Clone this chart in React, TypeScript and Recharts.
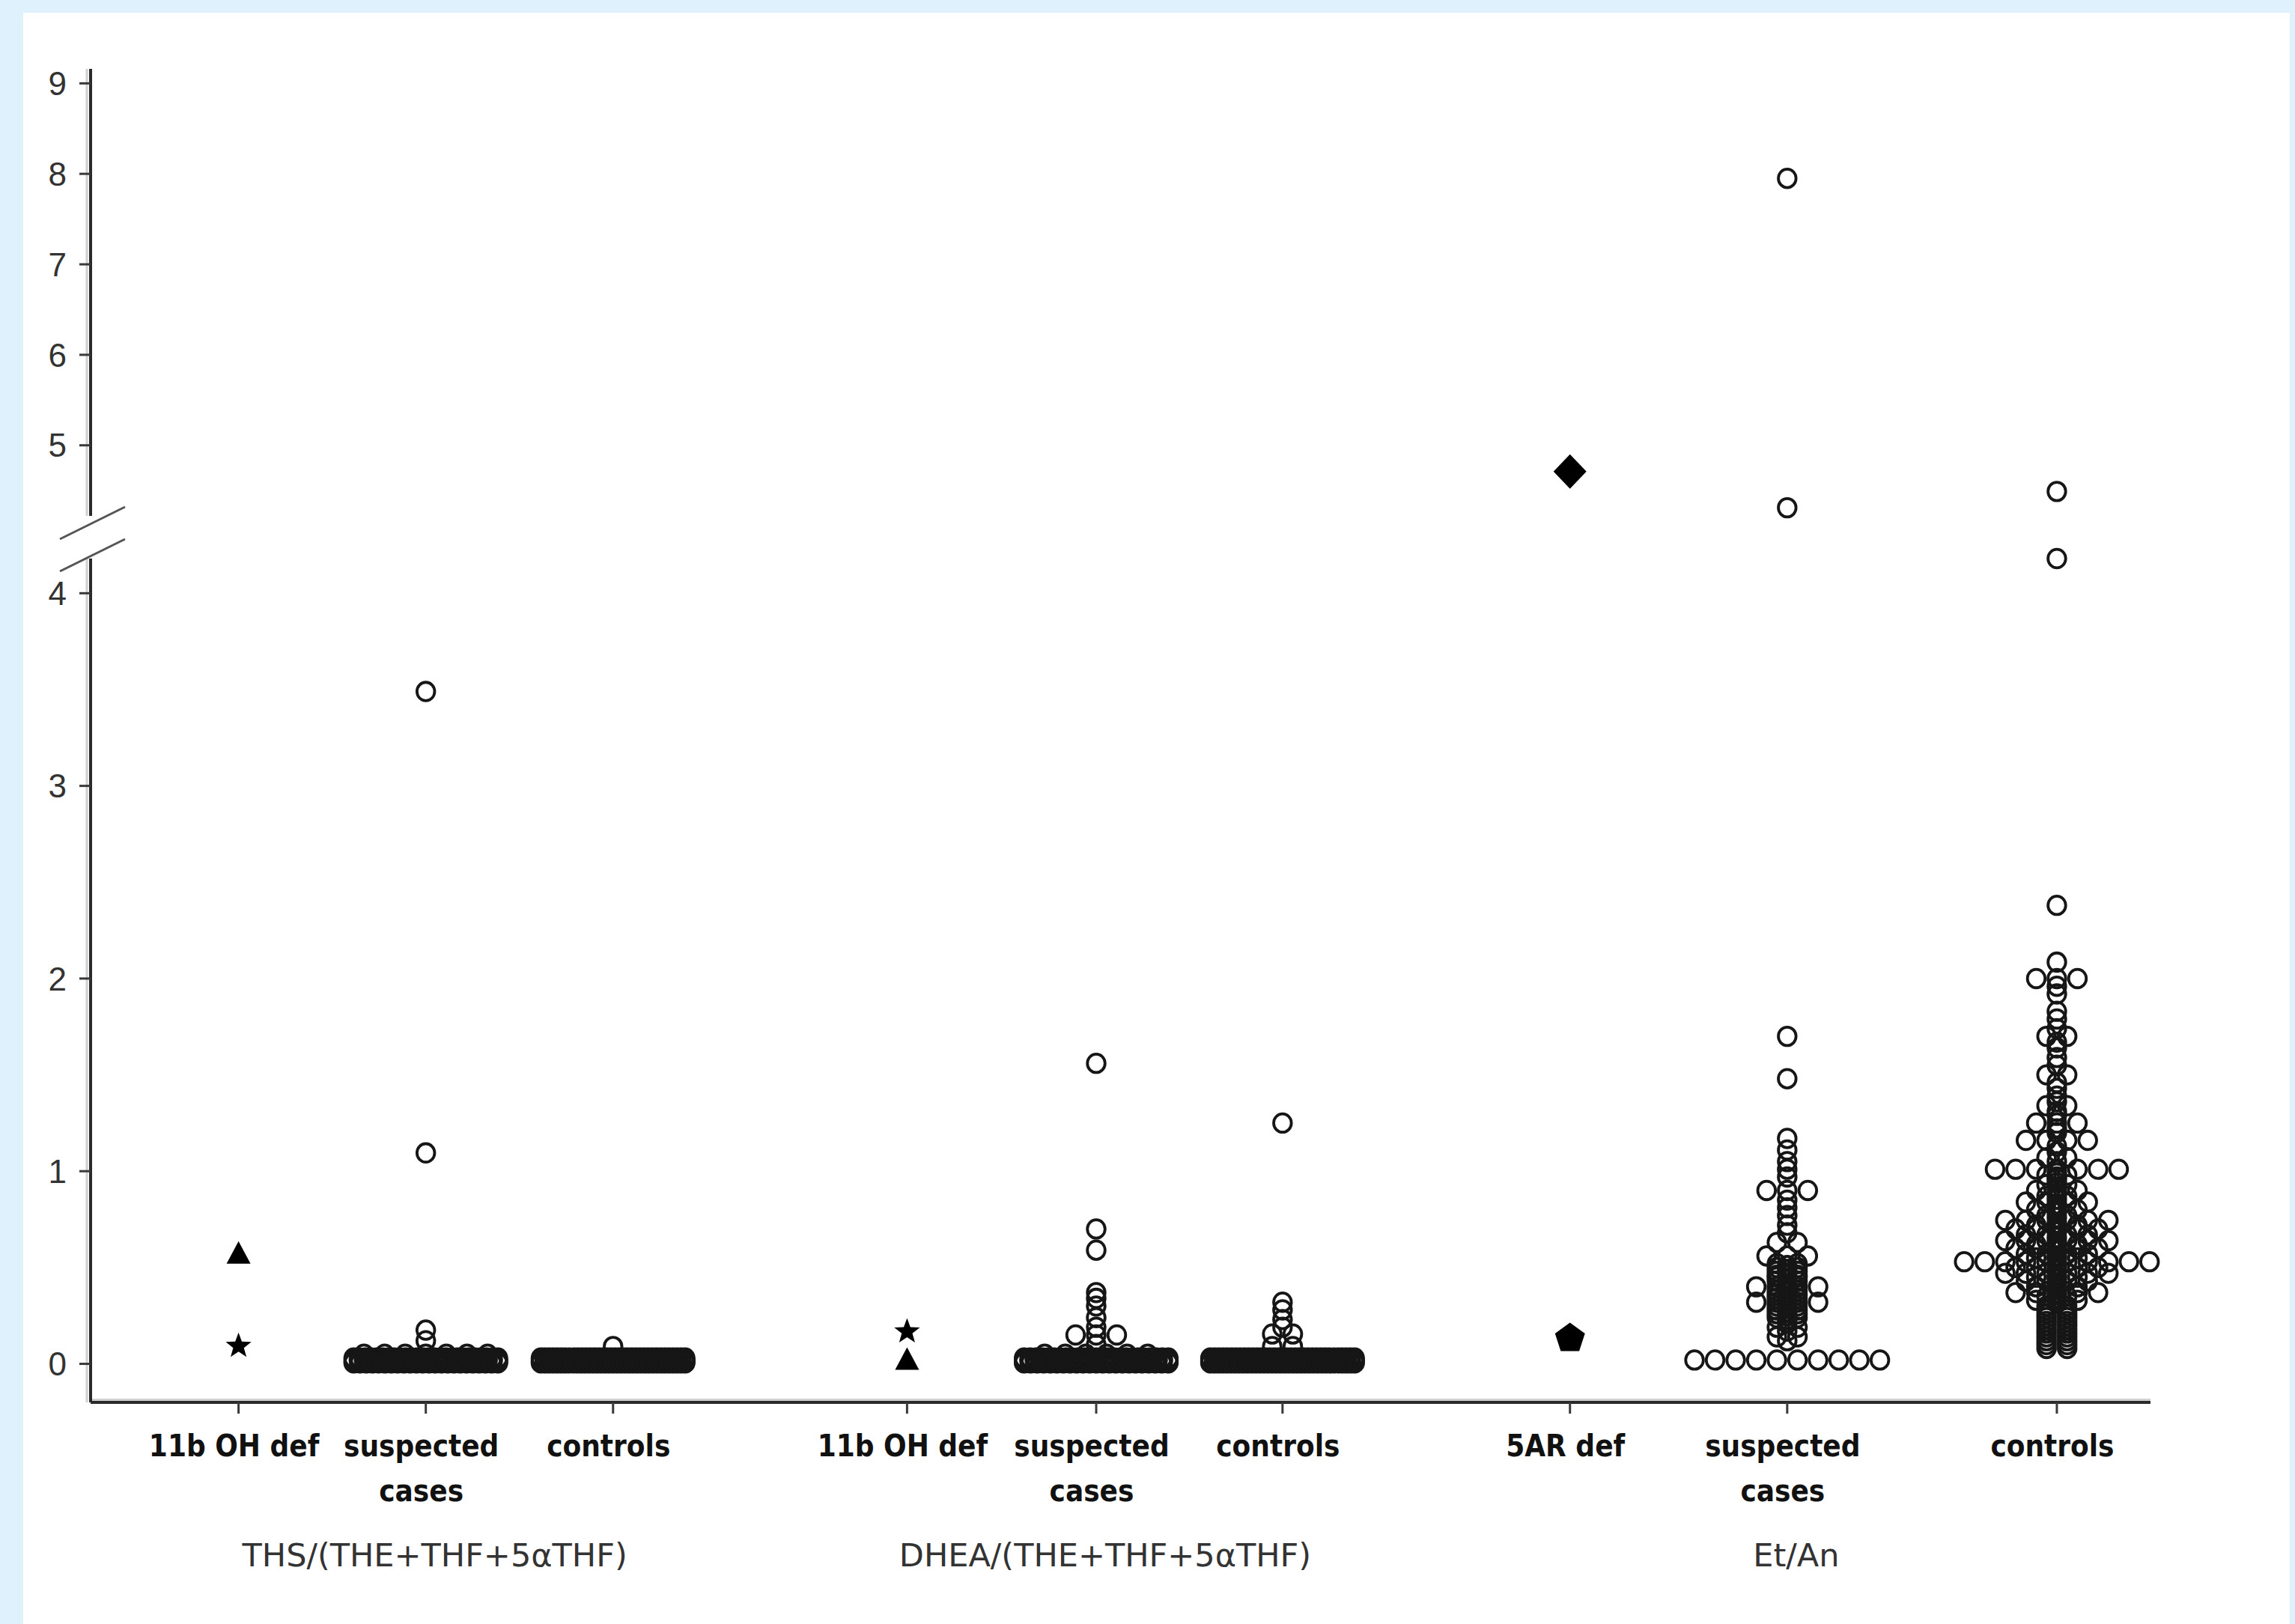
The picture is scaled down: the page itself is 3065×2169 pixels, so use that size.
import React from "react";
import { ScatterChart, Scatter, XAxis, YAxis } from "recharts";

const W = 3065;
const H = 2169;

// categories along the x axis (positions on a numeric axis, one unit ~ one slot)
const categoryLines = [
  ["11b OH def"],
  ["suspected", "cases"],
  ["controls"],
  ["11b OH def"],
  ["suspected", "cases"],
  ["controls"],
  ["5AR def"],
  ["suspected", "cases"],
  ["controls"],
];
const categoryPos = [1, 2, 3, 4.57, 5.58, 6.575, 8.11, 9.27, 10.71];
const groupLabels = ["THS/(THE+THF+5αTHF)", "DHEA/(THE+THF+5αTHF)", "Et/An"];

const upperTicks = [5, 6, 7, 8, 9];
const lowerTicks = [0, 1, 2, 3, 4];

// single patients with a known deficiency
const ths11bTriangle = [0.57];
const ths11bStar = [0.1];
const dhea11bStar = [0.175];
const dhea11bTriangle = [0.02];
const etan5arDiamond = [4.71];
const etan5arPentagon = [0.14];

// [ratio value, number of subjects at that value]
const thsSuspected = [
  [3.49, 1], [1.095, 1], [0.175, 1], [0.12, 1], [0.05, 7],
  [0.03, 26], [0.02, 29], [0.01, 27], [0.005, 24],
];
const thsControls = [[0.09, 1], [0.03, 36], [0.02, 39], [0.01, 41], [0.005, 37]];

const dheaSuspected = [
  [1.56, 1], [0.7, 1], [0.59, 1], [0.37, 1], [0.34, 1], [0.3, 1], [0.24, 1], [0.19, 1],
  [0.15, 3], [0.1, 1], [0.05, 6], [0.03, 25], [0.02, 28], [0.01, 26], [0.005, 23],
];
const dheaControls = [
  [1.25, 1], [0.32, 1], [0.28, 1], [0.23, 1], [0.19, 1], [0.155, 2], [0.09, 2],
  [0.03, 35], [0.02, 38], [0.01, 40], [0.005, 36],
];

const etanSuspected = [
  [7.95, 1], [4.31, 1], [1.7, 1], [1.48, 1], [1.17, 1], [1.11, 1], [1.05, 1], [1.01, 1],
  [0.97, 1], [0.9, 3], [0.85, 1], [0.81, 1], [0.77, 1], [0.72, 1], [0.68, 1], [0.63, 2],
  [0.56, 3], [0.52, 2], [0.51, 1], [0.5, 2], [0.49, 1], [0.48, 2], [0.47, 1], [0.46, 2],
  [0.45, 2], [0.44, 1], [0.43, 2], [0.41, 1], [0.4, 4], [0.39, 1], [0.38, 2], [0.37, 1],
  [0.36, 2], [0.35, 1], [0.34, 2], [0.33, 1], [0.32, 4], [0.31, 1], [0.3, 2], [0.29, 1],
  [0.28, 2], [0.27, 1], [0.26, 2], [0.25, 1], [0.24, 2], [0.23, 1], [0.21, 1], [0.19, 2],
  [0.17, 1], [0.14, 2], [0.12, 1], [0.02, 10],
];
const etanControls = [
  [4.49, 1], [4.18, 1], [2.38, 1], [2.085, 1], [2.0, 3], [1.96, 1], [1.92, 1], [1.83, 1],
  [1.79, 1], [1.74, 1], [1.7, 2], [1.67, 1], [1.64, 1], [1.59, 1], [1.55, 1], [1.5, 2],
  [1.46, 1], [1.43, 1], [1.39, 1], [1.36, 1], [1.34, 2], [1.31, 1], [1.29, 1], [1.25, 3],
  [1.22, 1], [1.2, 1], [1.16, 4], [1.13, 1], [1.1, 1], [1.07, 2], [1.05, 1], [1.01, 7],
  [0.99, 1], [0.98, 2], [0.97, 1], [0.96, 1], [0.94, 1], [0.93, 2], [0.915, 1], [0.9, 3],
  [0.88, 1], [0.87, 2], [0.855, 1], [0.84, 4], [0.83, 1], [0.82, 1], [0.81, 1], [0.8, 3],
  [0.785, 1], [0.77, 2], [0.76, 1], [0.745, 6], [0.73, 1], [0.72, 3], [0.71, 1], [0.7, 5],
  [0.685, 1], [0.67, 4], [0.655, 1], [0.64, 6], [0.63, 1], [0.62, 3], [0.61, 1], [0.6, 5],
  [0.585, 1], [0.57, 4], [0.56, 1], [0.55, 3], [0.545, 1], [0.53, 10], [0.515, 1], [0.5, 5],
  [0.485, 1], [0.47, 6], [0.46, 1], [0.45, 3], [0.44, 1], [0.43, 4], [0.415, 1], [0.4, 3],
  [0.385, 1], [0.37, 5], [0.36, 1], [0.35, 2], [0.34, 1], [0.33, 3], [0.315, 1], [0.3, 2],
  [0.28, 2], [0.26, 2], [0.24, 2], [0.22, 2], [0.2, 2], [0.18, 2], [0.16, 2], [0.14, 2],
  [0.12, 2], [0.1, 2], [0.08, 2],
];

const X_DOMAIN = [0.21, 11.21];
const UPPER_DOMAIN = [4.22, 9.16];
const LOWER_DOMAIN = [-0.2, 4.18];
const STEP = 0.11; // horizontal distance between dots of one row (x units)

// dot-plot layout: dots of the same value are spread side by side
function dots(rows: number[][], cat: number, maxSpan: number) {
  const pos = categoryPos[cat];
  const out: { x: number; y: number }[] = [];
  rows.forEach(([value, count]) => {
    const step = count > 1 ? Math.min(STEP, maxSpan / (count - 1)) : 0;
    for (let i = 0; i < count; i++) {
      out.push({ x: pos + (i - (count - 1) / 2) * step, y: value });
    }
  });
  return out;
}

const single = (values: number[], cat: number) => values.map((v) => ({ x: categoryPos[cat], y: v }));

const ringSeries = [
  dots(thsSuspected, 1, 0.77),
  dots(thsControls, 2, 0.77),
  dots(dheaSuspected, 4, 0.77),
  dots(dheaControls, 5, 0.77),
  dots(etanSuspected, 7, 1.1),
  dots(etanControls, 8, 1.1),
];

const INK = "#161616";

const Ring = (p: any) => (
  <ellipse cx={p.cx} cy={p.cy} rx={11.8} ry={12.3} fill="none" stroke={INK} strokeWidth={3.8} />
);

const Triangle = (p: any) => (
  <polygon points={`${p.cx},${p.cy - 17} ${p.cx - 16},${p.cy + 13} ${p.cx + 16},${p.cy + 13}`} fill="#000" />
);

function radial(cx: number, cy: number, n: number, radii: number[]) {
  const pts: string[] = [];
  for (let k = 0; k < n; k++) {
    const a = -Math.PI / 2 + (k * 2 * Math.PI) / n;
    const r = radii[k % radii.length];
    pts.push(`${cx + r * Math.cos(a)},${cy + r * Math.sin(a)}`);
  }
  return pts.join(" ");
}

const Star = (p: any) => <polygon points={radial(p.cx, p.cy + 2, 10, [18, 7.5])} fill="#000" />;
const Pentagon = (p: any) => <polygon points={radial(p.cx, p.cy + 2, 5, [21])} fill="#000" />;
const Diamond = (p: any) => (
  <polygon
    points={`${p.cx},${p.cy - 23} ${p.cx + 22},${p.cy} ${p.cx},${p.cy + 23} ${p.cx - 22},${p.cy}`}
    fill="#000"
  />
);

const CategoryTick = (props: any) => {
  const { x, y, payload } = props;
  const i = categoryPos.indexOf(payload.value);
  if (i < 0) return null;
  return (
    <g>
      <g transform={`translate(${x - 6},${y}) scale(0.9,1)`}>
        {categoryLines[i].map((line, k) => (
          <text
            key={k}
            x={0}
            y={57 + k * 60}
            textAnchor="middle"
            fontFamily="DejaVu Sans, sans-serif"
            fontWeight="bold"
            fontSize={40}
            fill="#111"
          >
            {line}
          </text>
        ))}
      </g>
      {i % 3 === 1 && (
        <text
          x={x + 12}
          y={y + 204}
          textAnchor="middle"
          fontFamily="DejaVu Sans, sans-serif"
          fontSize={43}
          fill="#333"
        >
          {groupLabels[(i - 1) / 3]}
        </text>
      )}
    </g>
  );
};

const yTick = { fontSize: 44, fill: "#333", fontFamily: "Liberation Sans, Arial, sans-serif" };
const axisLine = { stroke: "#2a2a2a", strokeWidth: 4 };
const tickLine = { stroke: "#3a3a3a", strokeWidth: 3 };

function series(inUpper: boolean) {
  const keep = (pts: { x: number; y: number }[]) =>
    pts.filter((d) => (inUpper ? d.y >= UPPER_DOMAIN[0] : d.y <= LOWER_DOMAIN[1]));
  return [
    ...ringSeries.map((pts, k) => (
      <Scatter key={`r${k}`} data={keep(pts)} shape={Ring} isAnimationActive={false} />
    )),
    <Scatter key="t1" data={keep(single(ths11bTriangle, 0))} shape={Triangle} isAnimationActive={false} />,
    <Scatter key="s1" data={keep(single(ths11bStar, 0))} shape={Star} isAnimationActive={false} />,
    <Scatter key="s2" data={keep(single(dhea11bStar, 3))} shape={Star} isAnimationActive={false} />,
    <Scatter key="t2" data={keep(single(dhea11bTriangle, 3))} shape={Triangle} isAnimationActive={false} />,
    <Scatter key="d3" data={keep(single(etan5arDiamond, 6))} shape={Diamond} isAnimationActive={false} />,
    <Scatter key="p3" data={keep(single(etan5arPentagon, 6))} shape={Pentagon} isAnimationActive={false} />,
  ];
}

export default function App() {
  return (
    <div
      style={{
        position: "absolute",
        left: 0,
        top: 0,
        width: W,
        height: H,
        background: "#dff1fc",
        overflow: "hidden",
      }}
    >
      <div style={{ position: "absolute", left: 31, top: 17, width: 3027, height: H - 17, background: "#fff" }} />

      {/* light shadow along the axes, as in the scanned figure */}
      <svg width={W} height={H} style={{ position: "absolute", left: 0, top: 0 }}>
        <line x1={116} y1={92} x2={116} y2={689} stroke="#d0d0d0" strokeWidth={3} />
        <line x1={116} y1={746} x2={116} y2={1873} stroke="#d0d0d0" strokeWidth={3} />
        <line x1={121} y1={1869.5} x2={2872} y2={1869.5} stroke="#d0d0d0" strokeWidth={3} />
      </svg>

      {/* lower part of the broken axis: 0 - 4 */}
      <div style={{ position: "absolute", left: 0, top: 0 }}>
        <ScatterChart width={W} height={H} margin={{ top: 746, right: 193, bottom: 0, left: 0 }}>
          <XAxis
            type="number"
            dataKey="x"
            domain={X_DOMAIN}
            ticks={categoryPos}
            interval={0}
            height={296}
            tickSize={15}
            tickMargin={0}
            axisLine={axisLine}
            tickLine={tickLine}
            tick={<CategoryTick />}
          />
          <YAxis
            type="number"
            dataKey="y"
            domain={LOWER_DOMAIN}
            ticks={lowerTicks}
            interval={0}
            width={121}
            tickSize={15}
            tickMargin={17}
            axisLine={axisLine}
            tickLine={tickLine}
            tick={yTick}
          />
          {series(false)}
        </ScatterChart>
      </div>

      {/* upper part of the broken axis: 5 - 9 */}
      <div style={{ position: "absolute", left: 0, top: 0 }}>
        <ScatterChart width={W} height={697} margin={{ top: 92, right: 193, bottom: 8, left: 0 }}>
          <XAxis type="number" dataKey="x" domain={X_DOMAIN} hide />
          <YAxis
            type="number"
            dataKey="y"
            domain={UPPER_DOMAIN}
            ticks={upperTicks}
            interval={0}
            width={121}
            tickSize={15}
            tickMargin={17}
            axisLine={axisLine}
            tickLine={tickLine}
            tick={yTick}
          />
          {series(true)}
        </ScatterChart>
      </div>

      {/* axis break marks */}
      <svg
        width={W}
        height={H}
        style={{ position: "absolute", left: 0, top: 0, pointerEvents: "none" }}
      >
        <line x1={80} y1={720} x2={167} y2={677} stroke="#555" strokeWidth={3} />
        <line x1={80} y1={763} x2={167} y2={720} stroke="#555" strokeWidth={3} />
      </svg>
    </div>
  );
}
